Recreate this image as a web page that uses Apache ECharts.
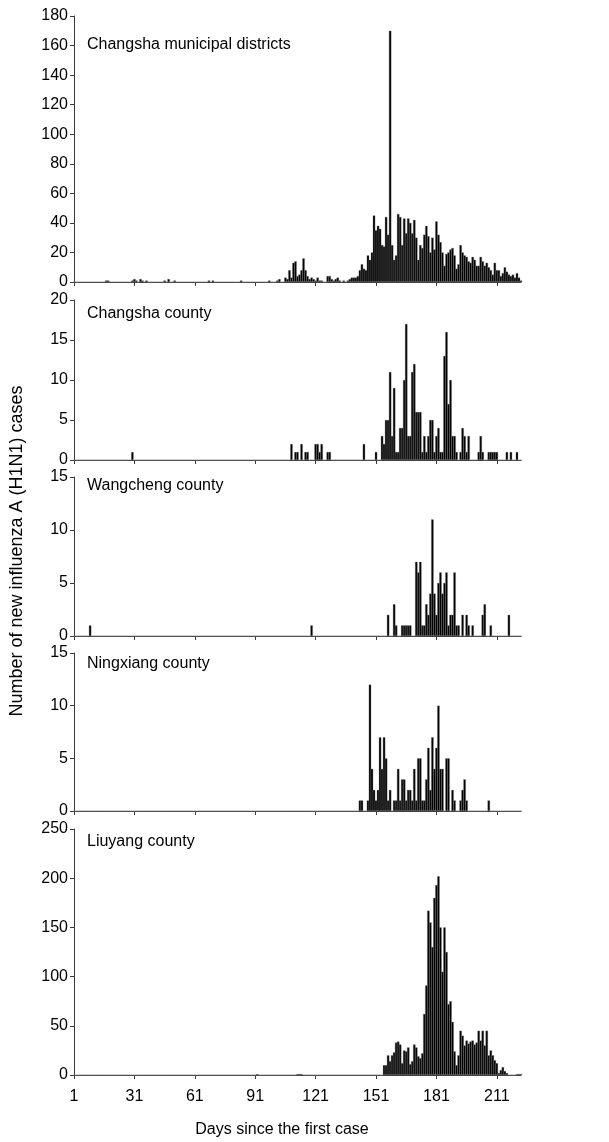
<!DOCTYPE html>
<html>
<head>
<meta charset="utf-8">
<script src="https://cdn.jsdelivr.net/npm/echarts@6/dist/echarts.min.js"></script>
<style>
html,body{margin:0;padding:0;background:#fff;}
#chart{width:609px;height:1142px;}
</style>
</head>
<body>
<div id="chart"></div>
<script>
// ---- data (days since first case, number of new cases) ----
var firstDay = 1;
var lastDay = 223;
var xTickLabels = [1, 31, 61, 91, 121, 151, 181, 211];

var panelTitles = ['Changsha municipal districts', 'Changsha county', 'Wangcheng county', 'Ningxiang county', 'Liuyang county'];

var districtsDays = [17,18,30,31,32,34,35,37,46,48,51,68,70,84,98,102,103,106,107,108,109,110,111,112,113,114,115,116,117,118,119,120,121,122,123,124,127,128,129,130,131,132,133,135,137,
  138,139,140,141,142,143,144,145,146,147,148,149,150,151,152,153,154,155,156,157,158,159,160,161,162,163,164,165,166,167,168,169,170,171,172,173,174,175,176,177,178,179,180,
  181,182,183,184,185,186,187,188,189,190,191,192,193,194,195,196,197,198,199,200,201,202,203,204,205,206,207,208,209,210,211,212,213,214,215,216,217,218,219,220,221,222,223];
var districtsCases = [1,1,1,2,1,2,1,1,1,2,1,1,1,1,1,1,2,3,2,8,3,13,14,4,5,8,16,8,4,2,3,2,1,3,1,1,4,4,2,1,2,3,1,1,1,
  2,3,3,3,4,8,12,9,8,18,15,20,45,35,38,36,25,24,44,32,170,25,15,18,46,44,25,43,33,43,40,33,42,30,15,25,23,32,38,31,20,30,22,
  41,32,27,20,11,19,20,22,23,18,9,12,25,20,18,17,14,13,17,15,11,11,17,14,11,13,10,8,5,13,8,8,4,6,10,7,5,4,5,3,6,3,1];

var csCountyDays = [30,109,111,112,114,116,117,121,122,123,124,127,128,145,151,154,155,156,157,158,159,160,161,162,163,164,165,166,167,168,169,170,171,172,173,174,175,176,177,178,179,180,
  181,182,183,184,185,186,187,188,189,190,191,193,194,195,196,197,202,203,204,207,208,209,210,211,216,218,221];
var csCountyCases = [1,2,1,1,2,1,1,2,2,1,2,1,1,2,1,3,2,5,5,11,3,9,1,1,4,4,10,17,3,3,11,12,6,6,6,1,3,1,3,5,5,1,
  3,4,1,1,13,16,7,10,3,3,1,1,4,3,1,3,1,3,1,1,1,1,1,1,1,1,1];

var wangchengDays = [9,119,157,160,161,164,165,166,167,168,171,172,173,174,175,176,177,178,179,180,181,182,183,184,185,186,187,188,189,190,191,192,194,196,197,199,204,205,208,217];
var wangchengCases = [1,1,2,3,1,1,1,1,1,1,7,6,7,1,1,3,2,4,11,4,2,5,6,4,5,6,1,2,2,6,1,1,2,2,1,1,2,3,1,2];

var ningxiangDays = [143,144,147,148,149,150,151,152,153,154,155,156,157,158,160,161,162,163,164,165,166,167,168,169,170,171,172,173,174,175,176,177,178,179,180,
  181,182,183,184,186,187,189,190,193,194,195,196,207];
var ningxiangCases = [1,1,1,12,4,2,1,2,7,4,7,5,1,2,1,1,4,1,3,3,1,2,2,1,4,1,5,5,1,1,3,6,2,7,4,
  6,10,4,4,5,5,2,1,1,2,3,1,1];

var liuyangDays = [92,112,113,114,155,156,157,158,159,160,161,162,163,164,165,166,167,168,169,170,171,172,173,174,175,176,177,178,179,180,
  181,182,183,184,185,186,187,188,189,190,191,192,193,194,195,196,197,198,199,200,201,202,203,204,205,206,207,208,209,210,
  211,212,213,214,215,216,221,222,223];
var liuyangCases = [1,1,1,1,10,10,20,14,20,23,33,34,31,12,25,24,28,11,14,31,28,19,17,22,62,91,167,155,130,180,
  193,202,150,105,150,125,72,75,54,24,10,20,45,40,30,35,32,34,35,31,33,45,35,45,30,45,20,25,20,15,
  12,2,5,8,4,2,1,1,1];

var yMax = [180, 20, 15, 15, 250];
var yInterval = [20, 5, 5, 5, 50];

// ---- build ----
var categories = [];
for (var d = firstDay; d <= lastDay; d++) categories.push(String(d));

function dense(days, cases) {
  var arr = categories.map(function () { return 0; });
  for (var i = 0; i < days.length; i++) arr[days[i] - firstDay] = cases[i];
  return arr;
}
var panels = [
  dense(districtsDays, districtsCases),
  dense(csCountyDays, csCountyCases),
  dense(wangchengDays, wangchengCases),
  dense(ningxiangDays, ningxiangCases),
  dense(liuyangDays, liuyangCases)
];

var gridTops = [16, 300, 477, 653, 829];
var gridHeights = [266, 160, 159, 158, 246];
var titleY = [46, 315, 487, 665, 843];

var FONT = 'Liberation Sans, Arial, Helvetica, sans-serif';
var axisColor = '#3a3a3a';

function isTick(idx) { return xTickLabels.indexOf(Number(categories[idx])) >= 0; }

var grids = [], xAxes = [], yAxes = [], series = [], graphics = [];
for (var p = 0; p < 5; p++) {
  grids.push({ left: 74, width: 447, top: gridTops[p], height: gridHeights[p], containLabel: false });
  xAxes.push({
    type: 'category', gridIndex: p, data: categories, boundaryGap: false,
    axisLine: { lineStyle: { color: axisColor, width: 1 } },
    axisTick: { show: true, length: 4, interval: function (i) { return isTick(i); }, lineStyle: { color: axisColor } },
    axisLabel: { show: p === 4, interval: function (i) { return isTick(i); }, color: '#000', fontSize: 16, fontFamily: FONT, margin: 14 },
    splitLine: { show: false }
  });
  yAxes.push({
    type: 'value', gridIndex: p, min: 0, max: yMax[p], interval: yInterval[p],
    axisLine: { show: true, lineStyle: { color: axisColor, width: 1 } },
    axisTick: { show: true, length: 4, lineStyle: { color: axisColor } },
    axisLabel: { color: '#000', fontSize: 16, fontFamily: FONT, margin: 6 },
    splitLine: { show: false }
  });
  series.push({
    type: 'bar', xAxisIndex: p, yAxisIndex: p, data: panels[p],
    barWidth: 2.4, barGap: '-10%',
    itemStyle: { color: '#000', borderColor: '#808080', borderWidth: 0.35 },
    silent: true, animation: false
  });
  graphics.push({
    type: 'text', left: 87, top: titleY[p] - 9,
    style: { text: panelTitles[p], fontSize: 16, fontFamily: FONT, fill: '#000' }
  });
}
graphics.push({
  type: 'text', x: 282, y: 1130,
  style: { text: 'Days since the first case', fontSize: 16, fontFamily: FONT, fill: '#000', textAlign: 'center', textVerticalAlign: 'middle' }
});
graphics.push({
  type: 'text', x: 17, y: 551, rotation: Math.PI / 2,
  style: { text: 'Number of new influenza A (H1N1) cases', fontSize: 18, fontFamily: FONT, fill: '#000', textAlign: 'center', textVerticalAlign: 'middle' }
});

var chart = echarts.init(document.getElementById('chart'), null, { renderer: 'canvas' });
chart.setOption({
  animation: false,
  backgroundColor: '#fff',
  grid: grids, xAxis: xAxes, yAxis: yAxes, series: series, graphic: graphics
});
</script>
</body>
</html>
